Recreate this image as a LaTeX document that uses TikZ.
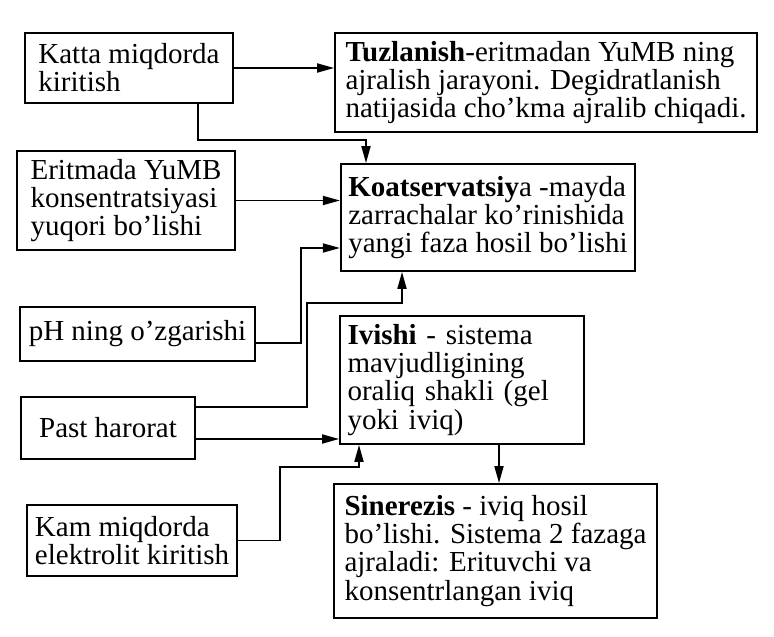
\documentclass[tikz,border=0pt]{standalone}
\usepackage{fontspec}
\setmainfont{Liberation Serif}
\usetikzlibrary{arrows.meta}

\begin{document}
\begin{tikzpicture}[font=\fontsize{16.5}{16}\selectfont,
    box/.style={draw, line width=1pt, align=left, inner xsep=0.15cm, inner ysep=0pt},
    arr/.style={-{Triangle[length=0.34cm,width=0.18cm]}, line width=1pt}]
  \useasboundingbox (0,0) rectangle (15.48,-12.74);
  \node[box, minimum width=4.16cm, minimum height=1.40cm] (katta) at (2.58,-1.36) {Katta miqdorda\\kiritish};
  \node[box, minimum width=8.44cm, minimum height=1.98cm] (tuz) at (10.92,-1.65) {\textbf{Tuzlanish}-eritmadan YuMB ning\\ajralish jarayoni. Degidratlanish\\natijasida cho'kma ajralib chiqadi.};
  \node[box, minimum width=4.36cm, minimum height=1.98cm] (erit) at (2.52,-4.01) {Eritmada YuMB\\konsentratsiyasi\\yuqori bo'lishi};
  \node[box, minimum width=5.84cm, minimum height=2.14cm] (koat) at (9.76,-4.35) {\textbf{Koatservatsiy}a -mayda\\zarrachalar ko'rinishida\\yangi faza hosil bo'lishi};
  \node[box, minimum width=4.70cm, minimum height=1.08cm] (ph) at (2.75,-6.68) {pH ning o'zgarishi};
  \node[box, minimum width=3.48cm, minimum height=1.24cm] (past) at (2.16,-8.56) {Past harorat};
  \node[box, minimum width=4.20cm, minimum height=1.42cm] (kam) at (2.64,-10.81) {Kam miqdorda\\elektrolit kiritish};
  \node[box, text width=4.58cm, minimum height=2.56cm] (ivishi) at (9.24,-7.60) {\textbf{Ivishi} - sistema\\mavjudligining\\oraliq shakli (gel\\yoki iviq)};
  \node[box, minimum width=6.46cm, minimum height=2.68cm] (siner) at (9.91,-11.02) {\textbf{Sinerezis} - iviq hosil\\bo'lishi. Sistema 2 fazaga\\ajraladi: Erituvchi va\\konsentrlangan iviq};
  % connectors
  \draw[arr] (katta.east) -- (katta.east -| tuz.west);
  \draw[arr] ([xshift=1.38cm]katta.south) -- ++(0,-0.72) -| ([xshift=-2.44cm]koat.north);
  \draw[arr] (erit.east) -- (erit.east -| koat.west);
  \draw[arr] ([yshift=-0.18cm]ph.east) -- ++(0.9,0) |- ([yshift=-0.61cm]koat.west);
  \draw[arr] ([yshift=0.42cm]past.east) -- ++(2.22,0) -- ++(0,2.08) -| ([xshift=-1.72cm]koat.south);
  \draw[arr] ([yshift=-0.22cm]past.east) -- ([yshift=-0.22cm]past.east -| ivishi.west);
  \draw[arr] (kam.east) -- ++(0.84,0) -- ++(0,1.47) -| ([xshift=-2.06cm]ivishi.south);
  \draw[arr] ([xshift=0.74cm]ivishi.south) -- ([xshift=0.74cm]ivishi.south |- siner.north);
\end{tikzpicture}
\end{document}
